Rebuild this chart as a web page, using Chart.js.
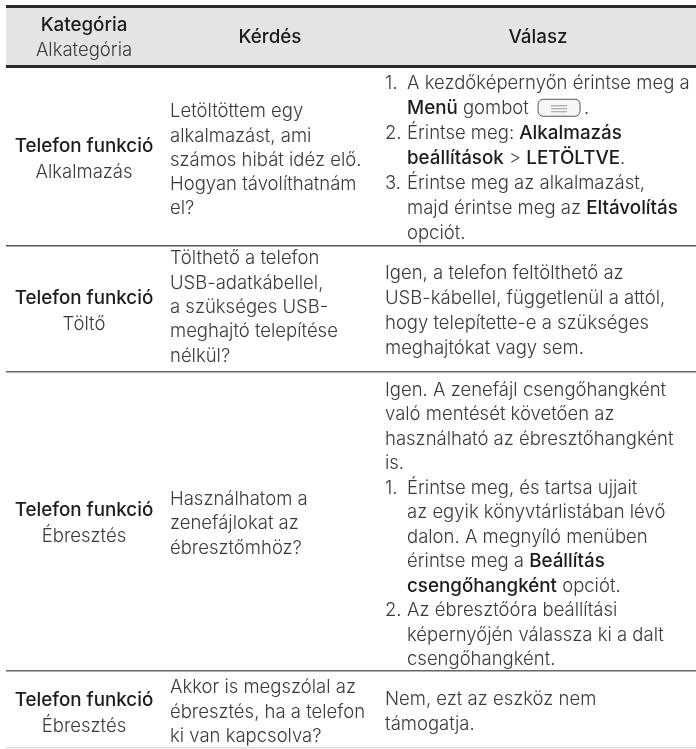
<!DOCTYPE html>
<html>
<head>
<meta charset="utf-8">
<title>Kategória</title>
<script src="https://cdn.jsdelivr.net/npm/chart.js@4"></script>
<style>
  html, body { margin: 0; padding: 0; background: #fff; overflow: hidden; }
  canvas { display: block; }
</style>
</head>
<body>
<canvas id="table" width="696" height="749"></canvas>
<script>
// table content, ** marks bold runs, [menu] is the menu key icon
let headers = ["Kérdés", "Válasz"];
let headerCategory = ["Kategória", "Alkategória"];
let categories = ["Telefon funkció", "Telefon funkció", "Telefon funkció", "Telefon funkció"];
let subcategories = ["Alkalmazás", "Töltő", "Ébresztés", "Ébresztés"];
let questions = [
  ["Letöltöttem egy", "alkalmazást, ami", "számos hibát idéz elő.", "Hogyan távolíthatnám", "el?"],
  ["Tölthető a telefon", "USB-adatkábellel,", "a szükséges USB-", "meghajtó telepítése", "nélkül?"],
  ["Használhatom a", "zenefájlokat az", "ébresztőmhöz?"],
  ["Akkor is megszólal az", "ébresztés, ha a telefon", "ki van kapcsolva?"]
];
let answers = [
  ["1.|A kezdőképernyőn érintse meg a", "|**Menü** gombot [menu].", "2.|Érintse meg: **Alkalmazás**", "|**beállítások** > **LETÖLTVE**.", "3.|Érintse meg az alkalmazást,", "|majd érintse meg az **Eltávolítás**", "|opciót."],
  ["Igen, a telefon feltölthető az", "USB-kábellel, függetlenül a attól,", "hogy telepítette-e a szükséges", "meghajtókat vagy sem."],
  ["Igen. A zenefájl csengőhangként", "való mentését követően az", "használható az ébresztőhangként", "is.", "1.|Érintse meg, és tartsa ujjait", "|az egyik könyvtárlistában lévő", "|dalon. A megnyíló menüben", "|érintse meg a **Beállítás**", "|**csengőhangként** opciót.", "2.|Az ébresztőóra beállítási", "|képernyőjén válassza ki a dalt", "|csengőhangként."],
  ["Nem, ezt az eszköz nem", "támogatja."]
];

// horizontal rules, in the y scale's units
let ruleValues = [6, 66, 245.5, 371.5, 671, 748];
let ruleColors = ["#2a2a2a", "#2a2a2a", "#555", "#666", "#666", "#ddd"];
let ruleWidths = [3, 3, 1.5, 1.5, 1.5, 1.5];

const LIGHT = '300 18.5px Inter';
const BOLD = '500 18.8px Inter';
const TEXT = '#3a3a3a';
const DARK = '#1c1c1c';

// per row nudges, the source isn't set on an even grid
const categoryShift = [3, 2, 1.5, 2.5];
const questionShift = [3.5, -2, 1.5, 1.5];
const answerShift = [1.5, 1.5, 2.5, 1.5];
const questionPitch = [24.3, 24.3, 24.5, 24.3];
const answerPitch = [25, 25, 24.5, 25];

function drawRuns(ctx, line, x, y) {
  let parts = line.split(/(\*\*.*?\*\*|\[menu\])/).filter(p => p);
  parts.forEach(function(p) {
    if (p === "[menu]") {
      drawMenuIcon(ctx, x, y);
      x += 50;
    } else if (p.startsWith("**")) {
      let t = p.slice(2, -2);
      ctx.font = BOLD;
      ctx.fillStyle = DARK;
      ctx.fillText(t, x, y);
      x += ctx.measureText(t).width;
    } else {
      ctx.font = LIGHT;
      ctx.fillStyle = TEXT;
      ctx.fillText(p, x, y);
      x += ctx.measureText(p).width;
    }
  });
}

function drawMenuIcon(ctx, x, y) {
  ctx.save();
  ctx.beginPath();
  ctx.roundRect(x + 4, y - 9, 42, 17, 5);
  ctx.fillStyle = "#f6f6f6";
  ctx.fill();
  ctx.strokeStyle = "#555";
  ctx.lineWidth = 1;
  ctx.stroke();
  ctx.strokeStyle = "#999";
  [-3, 0, 3].forEach(function(d) {
    ctx.beginPath();
    ctx.moveTo(x + 17, y + d + 0.5);
    ctx.lineTo(x + 33, y + d + 0.5);
    ctx.stroke();
  });
  ctx.restore();
}

const tablePlugin = {
  id: "tableText",
  beforeDraw(chart) {
    let ctx = chart.ctx, x = chart.scales.x, y = chart.scales.y;
    ctx.save();
    ctx.fillStyle = "#e4e4e4";
    ctx.fillRect(x.left, y.getPixelForValue(ruleValues[0]), x.width, y.getPixelForValue(ruleValues[1]) - y.getPixelForValue(ruleValues[0]));
    ctx.restore();
  },
  afterDraw(chart) {
    let ctx = chart.ctx, sx = chart.scales.x, sy = chart.scales.y;
    ctx.save();
    ctx.textBaseline = "middle";

    // header row
    ctx.textAlign = "center";
    ctx.font = BOLD;
    ctx.fillStyle = DARK;
    ctx.fillText(headerCategory[0], sx.getPixelForValue(84), sy.getPixelForValue(25.5));
    ctx.fillText(headers[0], sx.getPixelForValue(270), sy.getPixelForValue(37));
    ctx.fillText(headers[1], sx.getPixelForValue(538), sy.getPixelForValue(37));
    ctx.font = LIGHT;
    ctx.fillStyle = TEXT;
    ctx.fillText(headerCategory[1], sx.getPixelForValue(84), sy.getPixelForValue(50.5));

    categories.forEach(function(cat, i) {
      let mid = (ruleValues[i + 1] + ruleValues[i + 2]) / 2 + 1;

      ctx.textAlign = "center";
      ctx.font = BOLD;
      ctx.fillStyle = DARK;
      ctx.fillText(cat, sx.getPixelForValue(84), sy.getPixelForValue(mid - 13 + categoryShift[i]));
      ctx.font = LIGHT;
      ctx.fillStyle = TEXT;
      ctx.fillText(subcategories[i], sx.getPixelForValue(84), sy.getPixelForValue(mid + 13 + categoryShift[i]));

      ctx.textAlign = "left";
      let qTop = mid + questionShift[i] - (questions[i].length - 1) * questionPitch[i] / 2;
      questions[i].forEach(function(line, j) {
        ctx.font = LIGHT;
        ctx.fillStyle = TEXT;
        ctx.fillText(line, sx.getPixelForValue(170), sy.getPixelForValue(qTop + j * questionPitch[i]));
      });

      let aTop = mid + answerShift[i] - (answers[i].length - 1) * answerPitch[i] / 2;
      answers[i].forEach(function(line, j) {
        let py = sy.getPixelForValue(aTop + j * answerPitch[i]);
        if (line.includes("|")) {
          let [num, rest] = line.split("|");
          ctx.font = LIGHT;
          ctx.fillStyle = TEXT;
          ctx.fillText(num, sx.getPixelForValue(385), py);
          drawRuns(ctx, rest, sx.getPixelForValue(407), py);
        } else {
          drawRuns(ctx, line, sx.getPixelForValue(385), py);
        }
      });
    });
    ctx.restore();
  }
};

new Chart(document.getElementById("table").getContext("2d"), {
  type: "scatter",
  data: { datasets: [] },
  plugins: [tablePlugin],
  options: {
    responsive: false,
    animation: false,
    layout: { padding: { left: 6 } },
    plugins: { legend: { display: false }, tooltip: { enabled: false } },
    scales: {
      x: {
        type: "linear", min: 6, max: 696,
        grid: { display: false, drawTicks: false },
        border: { display: false },
        ticks: { display: false }
      },
      y: {
        type: "linear", min: 0, max: 749, reverse: true,
        afterBuildTicks(axis) { axis.ticks = ruleValues.map(v => ({ value: v })); },
        grid: {
          drawTicks: false,
          color: ctx => ruleColors[ruleValues.indexOf(ctx.tick.value)],
          lineWidth: ctx => ruleWidths[ruleValues.indexOf(ctx.tick.value)]
        },
        border: { display: false },
        ticks: { display: false }
      }
    }
  }
});
</script>
</body>
</html>
